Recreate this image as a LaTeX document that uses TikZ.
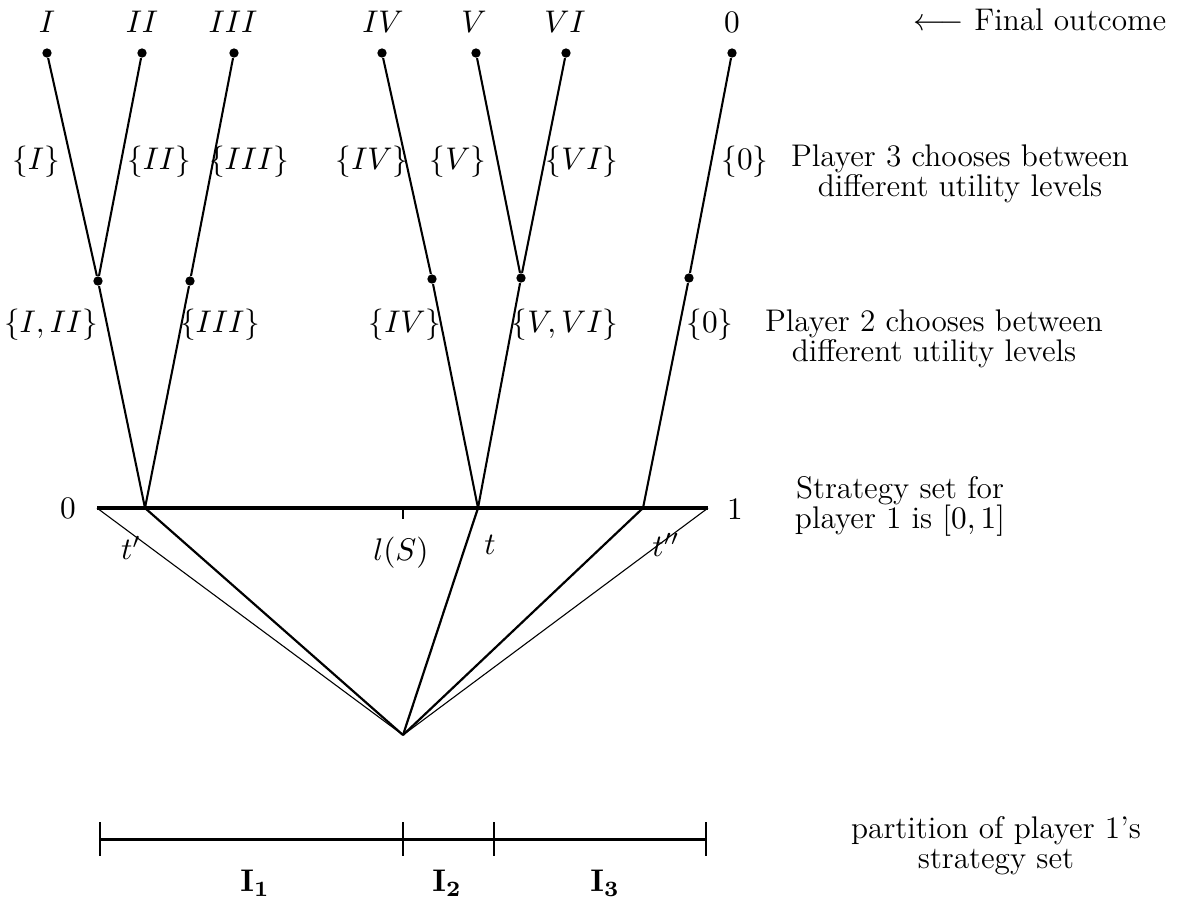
\RequirePackage{fix-cm}
\documentclass[tikz,border=0pt]{standalone}
\usetikzlibrary{positioning}
\begin{document}
\begin{tikzpicture}[x=0.0128cm, y=-0.0128cm,
  every node/.style={font=\fontsize{11.4pt}{11pt}\selectfont},
  dot/.style={circle, fill, inner sep=0pt, minimum size=3.4pt},
  branch/.style={line width=0.75pt},
  fan/.style={line width=0.4pt},
  fanthick/.style={line width=0.8pt},
  desc/.style={align=center},
  lbl/.style={inner sep=1pt}
]
  \useasboundingbox (0,0) rectangle (1177,901);

  % final outcomes
  \node[dot] (o1) at (47,53) {};
  \node[dot] (o2) at (142,53) {};
  \node[dot] (o3) at (234,53) {};
  \node[dot] (o4) at (382,53) {};
  \node[dot] (o5) at (476,53) {};
  \node[dot] (o6) at (566,53) {};
  \node[dot] (o0) at (732,53) {};
  \node (n1) at (47,22) {$I$};
  \node (n2) at (142,22) {$II$};
  \node (n3) at (233,22) {$III$};
  \node (n4) at (383,22) {$IV$};
  \node (n5) at (474,22) {$V$};
  \node (n6) at (565,22) {$VI$};
  \node (n0) at (732,22) {$0$};

  % player 3 nodes
  \node[dot] (a) at (98,281) {};
  \node[dot] (b) at (190,281) {};
  \node[dot] (c) at (432,279) {};
  \node[dot] (d) at (521,278) {};
  \node[dot] (e) at (689,278) {};

  % strategy set of player 1
  \coordinate (s0) at (97,508);
  \coordinate (s1) at (708,508);
  \coordinate (tp) at (145,508);
  \coordinate (tt) at (478,508);
  \coordinate (tpp) at (643,508);
  \coordinate (ls) at (403,508);
  \coordinate (lsd) at (403,519);
  \coordinate (apex) at (403,735);

  \draw[branch] (o1) -- (a);
  \draw[branch] (o2) -- (a);
  \draw[branch] (o3) -- (b);
  \draw[branch] (o4) -- (c);
  \draw[branch] (o5) -- (d);
  \draw[branch] (o6) -- (d);
  \draw[branch] (o0) -- (e);
  \draw[branch] (a) -- (tp);
  \draw[branch] (b) -- (tp);
  \draw[branch] (c) -- (tt);
  \draw[branch] (d) -- (tt);
  \draw[branch] (e) -- (tpp);

  \draw[line width=1.3pt] (s0) -- (s1);
  \draw[fan] (ls) -- (lsd);
  \draw[fan] (s0) -- (apex);
  \draw[fan] (s1) -- (apex);
  \draw[fanthick] (tp) -- (apex);
  \draw[fanthick] (tt) -- (apex);
  \draw[fanthick] (tpp) -- (apex);

  % branch labels, player 3
  \node[lbl] (la1) at (36,162) {$\{I\}$};
  \node[lbl] (la2) at (159,162) {$\{II\}$};
  \node[lbl] (la3) at (249,162) {$\{III\}$};
  \node[lbl] (la4) at (372,162) {$\{IV\}$};
  \node[lbl] (la5) at (458,162) {$\{V\}$};
  \node[lbl] (la6) at (582,162) {$\{VI\}$};
  \node[lbl] (la0) at (745,162) {$\{0\}$};
  % branch labels, player 2
  \node[lbl] (lb1) at (51,325) {$\{I,II\}$};
  \node[lbl] (lb3) at (220,325) {$\{III\}$};
  \node[lbl] (lb4) at (405,325) {$\{IV\}$};
  \node[lbl] (lb5) at (565,325) {$\{V,VI\}$};
  \node[lbl] (lb0) at (710,325) {$\{0\}$};

  % points on [0,1]
  \node (z0) at (68,508) {$0$};
  \node (z1) at (735,509) {$1$};
  \node (ltp) at (131,548) {$t'$};
  \node (lls) at (401,553) {$l(S)$};
  \node (ltt) at (490,545) {$t$};
  \node (ltpp) at (666,545) {$t''$};

  % partition
  \coordinate (q0) at (100,839);
  \coordinate (q1) at (403,839);
  \coordinate (q2) at (494,839);
  \coordinate (q3) at (706,839);
  \draw[line width=1.1pt] (q0) -- (q3);
  \foreach \q in {q0,q1,q2,q3}
    \draw[fan] (\q) ++(0,-17) -- ++(0,34);
  \node (i1) at (255,883) {$\mathbf{I}_{\mathbf{1}}$};
  \node (i2) at (447,883) {$\mathbf{I}_{\mathbf{2}}$};
  \node (i3) at (605,883) {$\mathbf{I}_{\mathbf{3}}$};

  % descriptions
  \node[desc] (fo) at (1040,20) {$\longleftarrow$ Final outcome};
  \node[desc] (p3) at (960,174) {Player 3 chooses between\\different utility levels};
  \node[desc] (p2) at (934,339) {Player 2 chooses between\\different utility levels};
  \node[desc] (p1) at (900,506) {Strategy set for\\player 1 is $[0,1]$};
  \node[desc] (pt) at (996,846) {partition of player 1's\\strategy set};
\end{tikzpicture}
\end{document}
